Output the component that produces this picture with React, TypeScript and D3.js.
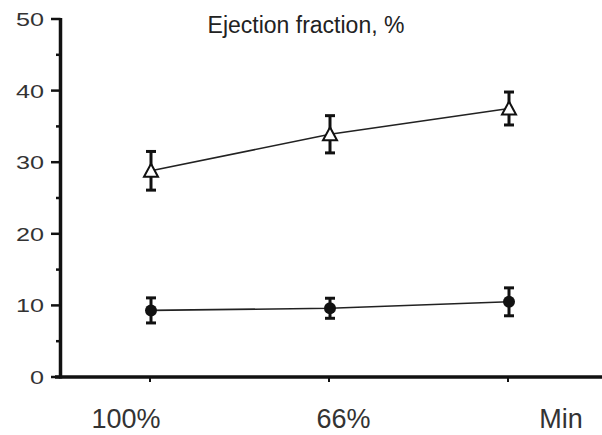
import React from "react";
import * as d3 from "d3";

const categories = ["100%", "66%", "Min"];
const triangleMeans = [28.8, 33.9, 37.5];
const triangleErrs = [2.7, 2.6, 2.3];
const circleMeans = [9.3, 9.6, 10.5];
const circleErrs = [1.75, 1.4, 1.95];
const yTicks = [0, 10, 20, 30, 40, 50];
const yMinorTicks = [5, 15, 25, 35, 45];
const title = "Ejection fraction, %";

const W = 602;
const H = 435;

export default function App() {
  const y = d3.scaleLinear().domain([0, 50]).range([377, 19]);
  const x = d3.scalePoint<string>().domain(categories).range([151, 509]);
  const xLabel = d3.scalePoint<string>().domain(categories).range([126, 561]);
  const axisX = 60.5;
  const font = "'Liberation Sans', Arial, sans-serif";

  const line = d3
    .line<number>()
    .x((_, i) => x(categories[i]) as number)
    .y((d) => y(d));

  const triPath = (cx: number, cy: number) => {
    const s = 7;
    return `M${cx},${cy - s}L${cx + s},${cy + s * 0.85}L${cx - s},${cy + s * 0.85}Z`;
  };

  const errBar = (cx: number, m: number, e: number, key: string) => (
    <g key={key} stroke="#111" strokeWidth={3}>
      <line x1={cx} x2={cx} y1={y(m + e)} y2={y(m - e)} />
      <line x1={cx - 5} x2={cx + 5} y1={y(m + e)} y2={y(m + e)} />
      <line x1={cx - 5} x2={cx + 5} y1={y(m - e)} y2={y(m - e)} />
    </g>
  );

  return (
    <svg
      width={W}
      height={H}
      style={{ position: "absolute", left: 0, top: 0, background: "#fff" }}
    >
      <rect width={W} height={H} fill="#fff" />
      {/* title */}
      <text
        x={306}
        y={33}
        textAnchor="middle"
        fontFamily={font}
        fontSize={23}
        fill="#222"
      >
        {title}
      </text>

      {/* y axis */}
      <line x1={axisX} x2={axisX} y1={y(50) - 1} y2={y(0) + 1.5} stroke="#111" strokeWidth={3.5} />
      {yTicks.map((t) => (
        <g key={"yt" + t}>
          <line x1={51} x2={axisX} y1={y(t)} y2={y(t)} stroke="#111" strokeWidth={2.5} />
          <text
            x={44}
            y={y(t) + 7}
            textAnchor="end"
            fontFamily={font}
            fontSize={19}
            fill="#333"
            textLength={String(t).length * 14}
            lengthAdjust="spacingAndGlyphs"
          >
            {t}
          </text>
        </g>
      ))}
      {yMinorTicks.map((t) => (
        <line key={"ym" + t} x1={56} x2={axisX} y1={y(t)} y2={y(t)} stroke="#111" strokeWidth={2.5} />
      ))}

      {/* x axis */}
      <line x1={55} x2={602} y1={y(0)} y2={y(0)} stroke="#111" strokeWidth={3.5} />
      {categories.map((c) => (
        <g key={"xt" + c}>
          <line
            x1={(x(c) as number) - 1}
            x2={(x(c) as number) - 1}
            y1={y(0)}
            y2={y(0) + 5}
            stroke="#111"
            strokeWidth={2}
          />
          <text
            x={xLabel(c) as number}
            y={428}
            textAnchor="middle"
            fontFamily={font}
            fontSize={27}
            fill="#333"
          >
            {c}
          </text>
        </g>
      ))}

      {/* lines */}
      <path d={line(triangleMeans) || ""} fill="none" stroke="#222" strokeWidth={1.6} />
      <path d={line(circleMeans) || ""} fill="none" stroke="#222" strokeWidth={1.6} />

      {/* error bars */}
      {triangleMeans.map((m, i) => errBar(x(categories[i]) as number, m, triangleErrs[i], "te" + i))}
      {circleMeans.map((m, i) => errBar(x(categories[i]) as number, m, circleErrs[i], "ce" + i))}

      {/* markers */}
      {triangleMeans.map((m, i) => (
        <path
          key={"tm" + i}
          d={triPath(x(categories[i]) as number, y(m))}
          fill="#fff"
          stroke="#111"
          strokeWidth={2}
        />
      ))}
      {circleMeans.map((m, i) => (
        <circle key={"cm" + i} cx={x(categories[i]) as number} cy={y(m)} r={6} fill="#111" />
      ))}
    </svg>
  );
}
